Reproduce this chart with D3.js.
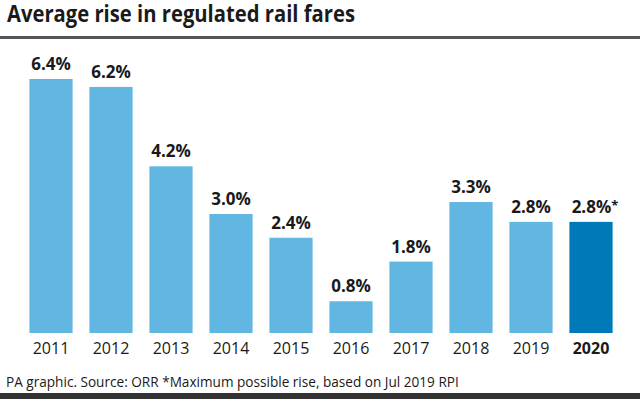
<!DOCTYPE html>
<html lang="en">
<head>
<meta charset="UTF-8">
<script src="https://d3js.org/d3.v7.min.js"></script>
<style>
  body { margin: 0; background: #fff; }
  text { font-family: "Open Sans", "Noto Sans", sans-serif; fill: #1a1a1a; }
</style>
</head>
<body>
<div id="container"></div>
<script>
// values
var years = ["2011", "2012", "2013", "2014", "2015", "2016", "2017", "2018", "2019", "2020"];
var rises = [6.4, 6.2, 4.2, 3.0, 2.4, 0.8, 1.8, 3.3, 2.8, 2.8];
var labels = ["6.4%", "6.2%", "4.2%", "3.0%", "2.4%", "0.8%", "1.8%", "3.3%", "2.8%", "2.8%*"];
var highlight = "2020";

var W = 640, H = 399;
var svg = d3.select("#container").append("svg")
    .attr("width", W)
    .attr("height", H);

// title and rule under it
svg.append("text")
    .attr("x", 7).attr("y", 22)
    .attr("font-size", 23.5)
    .attr("font-weight", "bold")
    .attr("textLength", 348)
    .attr("lengthAdjust", "spacingAndGlyphs")
    .text("Average rise in regulated rail fares");

svg.append("rect")
    .attr("x", 0).attr("y", 36)
    .attr("width", W).attr("height", 3)
    .attr("fill", "#555");

// scales
var x = d3.scaleBand()
    .domain(years)
    .range([21, 621])
    .paddingInner(0.28)
    .paddingOuter(0.14);

var y = d3.scaleLinear()
    .domain([0, 6.4])
    .range([333, 79]);

var data = years.map(function (d, i) {
    return { year: d, value: rises[i], label: labels[i] };
});

// bars
svg.selectAll(".bar")
    .data(data)
    .enter().append("rect")
    .attr("class", "bar")
    .attr("x", function (d) { return x(d.year); })
    .attr("y", function (d) { return y(d.value); })
    .attr("width", x.bandwidth())
    .attr("height", function (d) { return y(0) - y(d.value); })
    .attr("fill", function (d) { return d.year === highlight ? "#0079b9" : "#62b6e2"; });

// value labels
var vl = svg.selectAll(".val")
    .data(data)
    .enter().append("text")
    .attr("class", "val")
    .attr("x", function (d) { return x(d.year) + x.bandwidth() / 2; })
    .attr("y", function (d) { return y(d.value) - 9; })
    .attr("text-anchor", "middle")
    .attr("font-size", 17)
    .attr("font-weight", "bold");

vl.each(function (d) {
    var t = d3.select(this);
    if (d.label.slice(-1) === "*") {
        t.append("tspan").text(d.label.slice(0, -1));
        t.append("tspan").attr("font-size", 13).attr("dy", -3).text("*");
        t.attr("x", x(d.year) + x.bandwidth() / 2 + 4);
    } else {
        t.text(d.label);
    }
});

// x axis labels
var xAxis = d3.axisBottom(x).tickSize(0).tickPadding(10);
var gx = svg.append("g")
    .attr("transform", "translate(0," + y(0) + ")")
    .call(xAxis);
gx.select(".domain").remove();
gx.selectAll("text")
    .attr("font-size", 16)
    .attr("font-family", "\"Open Sans\", sans-serif")
    .attr("fill", "#1a1a1a")
    .attr("font-weight", function (d) { return d === highlight ? "bold" : "normal"; });

// footer
svg.append("text")
    .attr("x", 6).attr("y", 387)
    .attr("font-size", 13.6)
    .attr("fill", "#222")
    .text("PA graphic. Source: ORR *Maximum possible rise, based on Jul 2019 RPI");

svg.append("rect")
    .attr("x", 0).attr("y", 393)
    .attr("width", W).attr("height", 6)
    .attr("fill", "#333");
</script>
</body>
</html>
